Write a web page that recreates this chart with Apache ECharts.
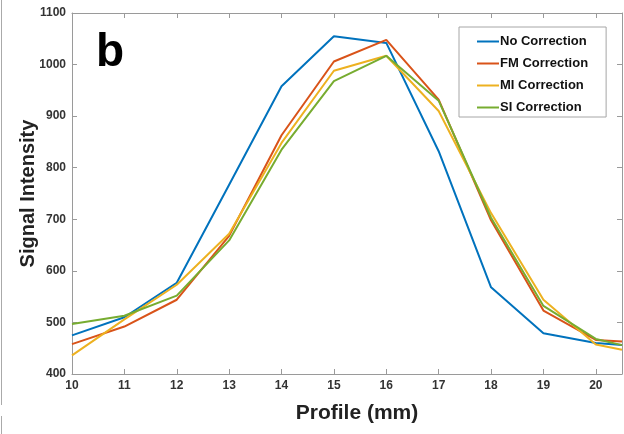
<!DOCTYPE html>
<html>
<head>
<meta charset="utf-8">
<script src="https://cdn.jsdelivr.net/npm/echarts@6/dist/echarts.min.js"></script>
<style>
html,body{margin:0;padding:0;background:#fff;}
#main{width:624px;height:434px;}
</style>
</head>
<body>
<div id="main"></div>
<script>
var profile = [10, 11, 12, 13, 14, 15, 16, 17, 18, 19, 20, 20.5];
var noCorr = [475, 510, 577, 767, 958, 1055, 1042, 832, 568, 479, 460, 456];
var fmCorr = [458, 492, 544, 668, 863, 1006, 1048, 932, 698, 523, 466, 463];
var miCorr = [436, 506, 573, 672, 848, 988, 1017, 910, 712, 544, 457, 447];
var siCorr = [497, 513, 552, 659, 835, 968, 1017, 930, 703, 532, 468, 456];
var xTicks = [10, 11, 12, 13, 14, 15, 16, 17, 18, 19, 20];
var names = ['No Correction', 'FM Correction', 'MI Correction', 'SI Correction'];
var colors = ['#0072BD', '#D95319', '#EDB120', '#77AC30'];

function pairs(arr){
	var out = [];
	for (var i = 0; i < arr.length; i++) out.push([profile[i], arr[i]]);
	return out;
}

var lineCol = '#9a9a9a';
var labelStyle = {color: '#333', fontWeight: 'bold', fontSize: 12, fontFamily: 'Liberation Sans, Arial'};

var option = {
	animation: false,
	color: colors,
	grid: {left: 72, right: 2, top: 13, bottom: 60},
	legend: {
		show: true,
		orient: 'vertical',
		left: 459,
		top: 27,
		width: 146,
		padding: [8, 18, 3, 18],
		itemGap: 9,
		itemWidth: 22,
		itemHeight: 13,
		backgroundColor: '#fff',
		borderColor: '#a6a6a6',
		borderWidth: 1,
		borderRadius: 0,
		icon: 'path://M0,5.5 L22,5.5 L22,7.5 L0,7.5 Z',
		textStyle: {color: '#111', fontWeight: 'bold', fontSize: 13, fontFamily: 'Liberation Sans, Arial', padding: [0, 0, 0, -4]},
		data: names
	},
	graphic: [{
		type: 'text',
		left: 96,
		top: 30,
		style: {text: 'b', fill: '#000', font: 'bold 46px Liberation Sans, Arial'}
	}, {
		type: 'line',
		shape: {x1: 1.5, y1: 0, x2: 1.5, y2: 405},
		style: {stroke: '#aaa', lineWidth: 1}
	}, {
		type: 'line',
		shape: {x1: 1.5, y1: 416, x2: 1.5, y2: 434},
		style: {stroke: '#aaa', lineWidth: 1}
	}],
	xAxis: [{
		type: 'value',
		min: 10,
		max: 20.5,
		interval: 1,
		name: 'Profile (mm)',
		nameLocation: 'middle',
		nameGap: 29,
		nameMoveOverlap: false,
		nameTextStyle: {color: '#222', fontWeight: 'bold', fontSize: 21, fontFamily: 'Liberation Sans, Arial', padding: [0, 0, 0, 20]},
		axisLine: {show: true, lineStyle: {color: lineCol}},
		axisTick: {show: true, inside: true, length: 5, lineStyle: {color: lineCol}, customValues: xTicks},
		axisLabel: Object.assign({margin: 6, customValues: xTicks}, labelStyle),
		splitLine: {show: false}
	}, {
		type: 'value',
		position: 'top',
		min: 10,
		max: 20.5,
		interval: 1,
		axisLine: {show: true, lineStyle: {color: lineCol}},
		axisTick: {show: true, inside: true, length: 5, lineStyle: {color: lineCol}, customValues: xTicks},
		axisLabel: {show: false},
		splitLine: {show: false}
	}],
	yAxis: [{
		type: 'value',
		min: 400,
		max: 1100,
		interval: 100,
		name: 'Signal Intensity',
		nameLocation: 'middle',
		nameGap: 34,
		nameMoveOverlap: false,
		nameTextStyle: {color: '#222', fontWeight: 'bold', fontSize: 20, fontFamily: 'Liberation Sans, Arial'},
		axisLine: {show: true, lineStyle: {color: lineCol}},
		axisTick: {show: true, inside: true, length: 5, lineStyle: {color: lineCol}},
		axisLabel: Object.assign({margin: 6, formatter: function(v){ return String(v); }}, labelStyle),
		splitLine: {show: false}
	}, {
		type: 'value',
		position: 'right',
		min: 400,
		max: 1100,
		interval: 100,
		axisLine: {show: true, lineStyle: {color: lineCol}},
		axisTick: {show: true, inside: true, length: 5, lineStyle: {color: lineCol}},
		axisLabel: {show: false},
		splitLine: {show: false}
	}],
	series: [
		{name: names[0], type: 'line', data: pairs(noCorr), showSymbol: false, lineStyle: {width: 2}},
		{name: names[1], type: 'line', data: pairs(fmCorr), showSymbol: false, lineStyle: {width: 2}},
		{name: names[2], type: 'line', data: pairs(miCorr), showSymbol: false, lineStyle: {width: 2}},
		{name: names[3], type: 'line', data: pairs(siCorr), showSymbol: false, lineStyle: {width: 2}}
	]
};

var myChart = echarts.init(document.getElementById('main'));
myChart.setOption(option);
</script>
</body>
</html>
